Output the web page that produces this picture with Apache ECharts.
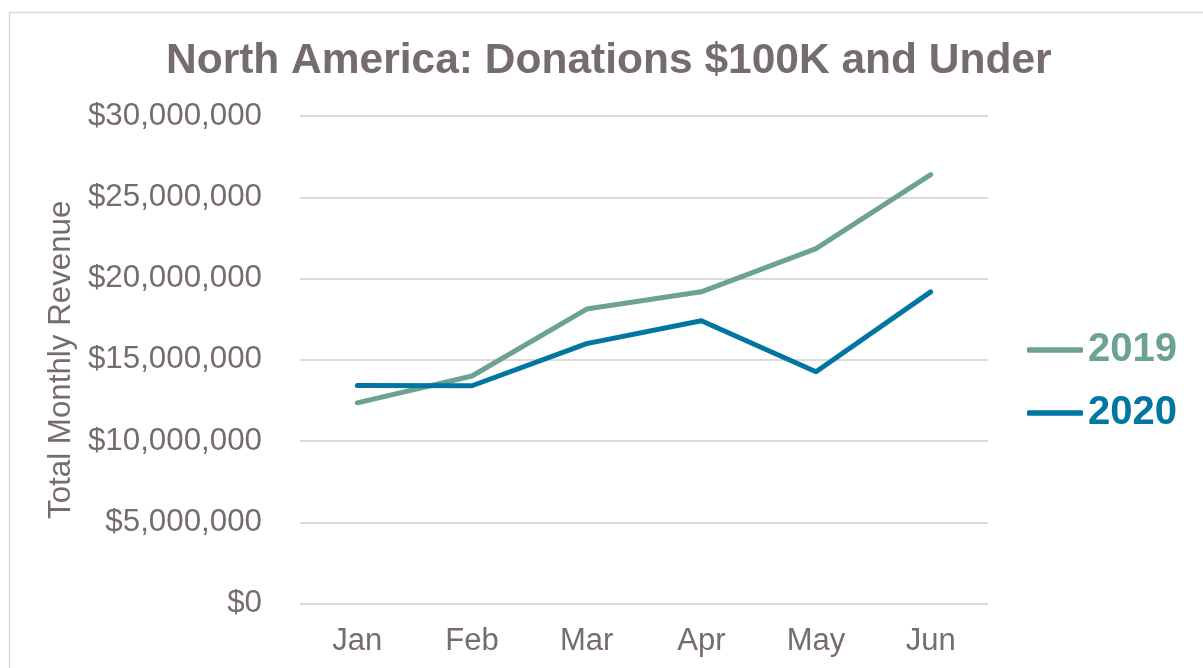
<!DOCTYPE html>
<html>
<head>
<meta charset="utf-8">
<style>
  html, body { margin: 0; padding: 0; background: #ffffff; }
  #chart { width: 1203px; height: 668px; }
</style>
<script src="https://cdn.jsdelivr.net/npm/echarts@6/dist/echarts.min.js"></script>
</head>
<body>
<div id="chart"></div>
<script>
// Monthly revenue, donations of $100K and under (North America)
const months = ['Jan', 'Feb', 'Mar', 'Apr', 'May', 'Jun'];
const revenue2019 = [12350000, 14000000, 18120000, 19180000, 21840000, 26390000];
const revenue2020 = [13420000, 13400000, 15990000, 17400000, 14260000, 19180000];
const yTicks = { min: 0, max: 30000000, interval: 5000000 };

const FONT = "'Liberation Sans', Arial, sans-serif";
const TEXT = '#766C6D';
const C2019 = '#6CA195';
const C2020 = '#0176A2';

const chart = echarts.init(document.getElementById('chart'), null, { renderer: 'canvas' });

const money = v => '$' + v.toLocaleString('en-US');

chart.setOption({
  backgroundColor: '#ffffff',
  animation: false,
  graphic: [{
    type: 'rect',
    shape: { x: 9.5, y: 12.5, width: 1260, height: 720 },
    style: { fill: 'none', stroke: '#D9D9D9', lineWidth: 1.5 },
    silent: true
  }],
  title: {
    text: 'North America: Donations $100K and Under',
    left: 161,
    top: 35,
    textStyle: { fontFamily: FONT, fontSize: 42.5, fontWeight: 'bold', color: TEXT }
  },
  legend: {
    orient: 'vertical',
    left: 1022,
    top: 325,
    itemWidth: 56,
    itemHeight: 5.5,
    itemGap: 23,
    icon: 'roundRect',
    textStyle: { fontFamily: FONT, fontSize: 40, fontWeight: 'bold', lineHeight: 40 },
    data: [
      { name: '2019', textStyle: { color: C2019 } },
      { name: '2020', textStyle: { color: C2020 } }
    ]
  },
  grid: { left: 300, right: 215, top: 116, bottom: 64.5, containLabel: false },
  xAxis: {
    type: 'category',
    data: months,
    boundaryGap: true,
    axisLine: { show: false },
    axisTick: { show: false },
    axisLabel: { fontFamily: FONT, fontSize: 31, color: TEXT, margin: 22 }
  },
  yAxis: {
    type: 'value',
    min: yTicks.min,
    max: yTicks.max,
    interval: yTicks.interval,
    name: 'Total Monthly Revenue',
    nameLocation: 'middle',
    nameRotate: 90,
    nameGap: 222,
    nameTextStyle: { fontFamily: FONT, fontSize: 31.3, color: TEXT },
    axisLine: { show: false },
    axisTick: { show: false },
    axisLabel: { fontFamily: FONT, fontSize: 31.3, color: TEXT, margin: 38, formatter: money },
    splitLine: { lineStyle: { color: '#DEDADB', width: 2 } }
  },
  series: [
    {
      name: '2019',
      type: 'line',
      data: revenue2019,
      symbol: 'none',
      color: C2019,
      lineStyle: { width: 5, color: C2019, cap: 'round', join: 'round' }
    },
    {
      name: '2020',
      type: 'line',
      data: revenue2020,
      symbol: 'none',
      color: C2020,
      lineStyle: { width: 5, color: C2020, cap: 'round', join: 'round' }
    }
  ]
});
</script>
</body>
</html>
